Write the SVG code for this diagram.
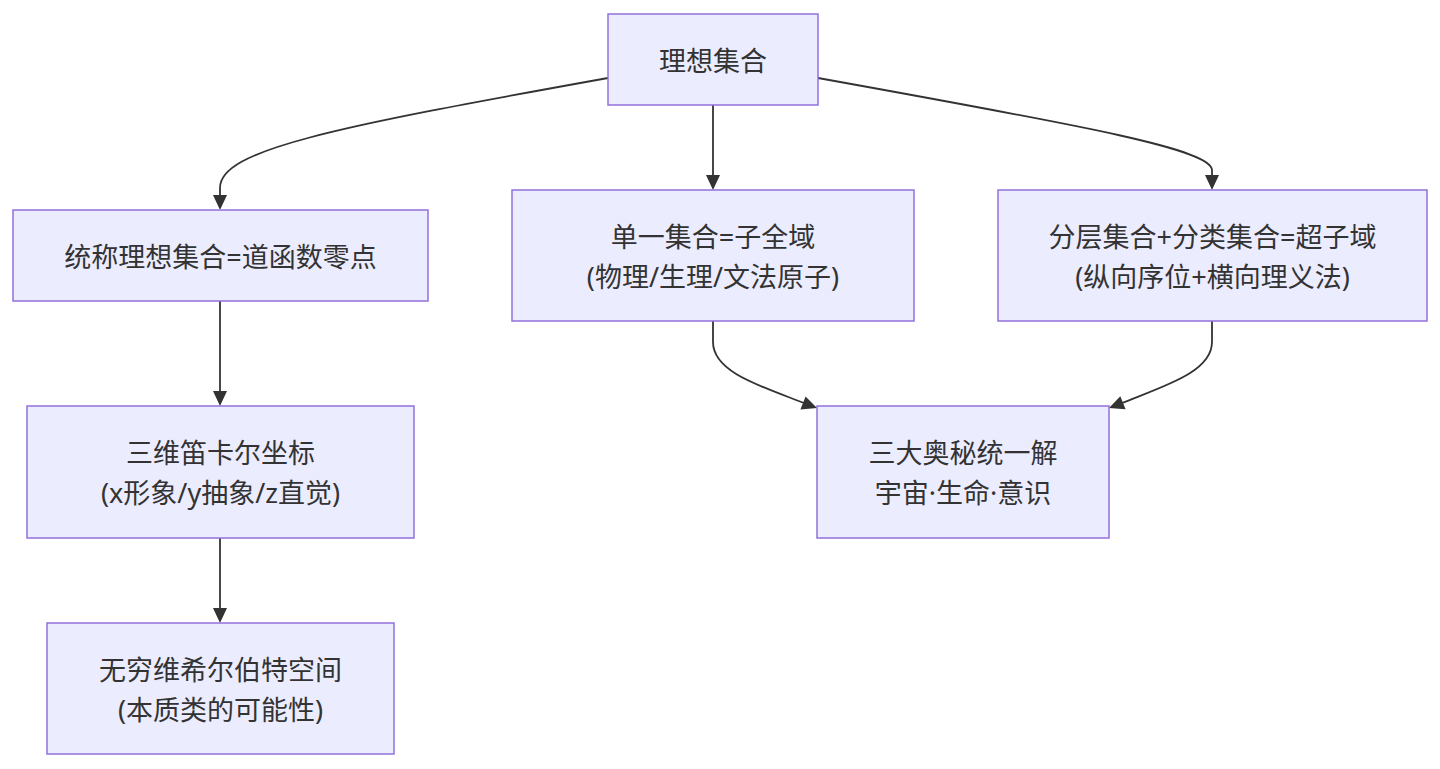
<svg xmlns="http://www.w3.org/2000/svg" width="1440" height="769" viewBox="0 0 1440 769">
<defs>
<style>
.node rect{fill:#ECECFF;stroke:#9370DB;stroke-width:1.5}
.node text{font-family:"Noto Sans","Noto Sans CJK SC",sans-serif;font-size:27px;fill:#333;text-anchor:middle;dominant-baseline:central}
.edges path{fill:none;stroke:#333;stroke-width:1.8}
.heads path{fill:#333;stroke:none}
</style>
</defs>
<rect width="1440" height="769" fill="#fff"/>
<g class="edges">
<path d="M608,78 C330,128 220,150 220,188 L220,197"/>
<path d="M713,105 L713,177"/>
<path d="M818,78 C1096,128 1212,150 1212,170 L1212,177"/>
<path d="M220,301 L220,393"/>
<path d="M220,538 L220,610"/>
<path d="M713,321 L713,342 C713,372 760,386 804,403"/>
<path d="M1212,321 L1212,342 C1212,372 1164,386 1122,403"/>
</g>
<g class="heads">
<path d="M213,195 L227,195 L220,210 z"/>
<path d="M706,175 L720,175 L713,190 z"/>
<path d="M1205,175 L1219,175 L1212,190 z"/>
<path d="M213,391 L227,391 L220,406 z"/>
<path d="M213,608 L227,608 L220,623 z"/>
<path d="M800.4,409.4 L805.6,396.4 L817,408 z"/>
<path d="M1125.6,409.2 L1120.3,396.2 L1109,408 z"/>
</g>
<g id="A" class="node"><rect x="608" y="14" width="210" height="91"/><text x="713" y="60">理想集合</text></g>
<g id="B" class="node"><rect x="13" y="210" width="415" height="91"/><text x="220.5" y="256">统称理想集合=道函数零点</text></g>
<g id="C" class="node"><rect x="512" y="190" width="402" height="131"/><text x="713" y="236">单一集合=子全域</text><text x="713" y="276">(物理/生理/文法原子)</text></g>
<g id="D" class="node"><rect x="998" y="190" width="429" height="131"/><text x="1212.5" y="236">分层集合+分类集合=超子域</text><text x="1212.5" y="276">(纵向序位+横向理义法)</text></g>
<g id="E" class="node"><rect x="27" y="406" width="387" height="132"/><text x="220.5" y="452">三维笛卡尔坐标</text><text x="220.5" y="492">(x形象/y抽象/z直觉)</text></g>
<g id="F" class="node"><rect x="817" y="406" width="292" height="132"/><text x="963" y="452">三大奥秘统一解</text><text x="963" y="492">宇宙·生命·意识</text></g>
<g id="G" class="node"><rect x="47" y="623" width="347" height="131"/><text x="220.5" y="669">无穷维希尔伯特空间</text><text x="220.5" y="709">(本质类的可能性)</text></g>
</svg>
